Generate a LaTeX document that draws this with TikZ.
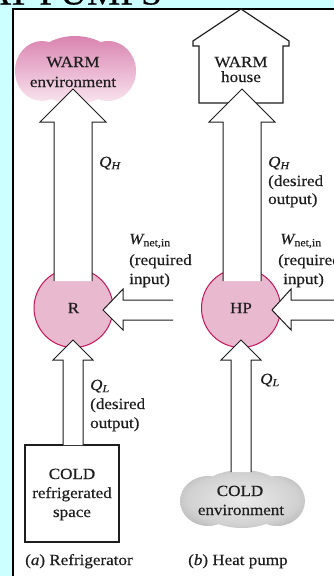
\documentclass[tikz,border=0pt]{standalone}
\usepackage{fontspec}
\setmainfont[FakeStretch=1.1,FakeBold=0.45]{Liberation Serif}
\definecolor{bgcyan}{RGB}{204,255,255}
\definecolor{rpink}{RGB}{233,185,208}
\definecolor{rrim}{RGB}{200,20,90}
\definecolor{ink}{RGB}{30,30,30}
\definecolor{pinktop}{RGB}{218,132,176}
\definecolor{pinkmid}{RGB}{236,186,212}
\definecolor{pinkbot}{RGB}{249,230,240}
\pgfdeclareradialshading{greycloud}{\pgfpoint{0bp}{0bp}}{%
  color(0bp)=(black!8); color(22bp)=(black!18); color(40bp)=(black!40); color(50bp)=(black!55)}
\tikzset{
  lbl/.style={font=\fontsize{15.5}{18}\selectfont, text=ink, inner sep=0pt},
  blk/.style={draw=ink, line width=1pt, fill=white, line join=miter},
  outline/.style={draw=ink, line width=1.2pt},
  machine/.style={circle, minimum size=79pt, inner sep=0pt, fill=rpink, draw=rrim,
    line width=1pt, font=\fontsize{15.5}{18}\selectfont, text=ink},
}
\newcommand{\qsym}[1]{{\itshape Q}\textsubscript{\itshape #1}}
\newcommand{\wnet}{{\itshape W}\textsubscript{net,in}}
\begin{document}
\begin{tikzpicture}[x=1pt,y=-1pt]
\useasboundingbox (0,0) rectangle (334,576);
\fill[bgcyan] (0,0) rectangle (334,576);
% slide heading, mostly above the page edge
\node[anchor=base west, font=\fontsize{34}{34}\selectfont, inner sep=0pt, text=black] (heading) at (-16,4.5) {AT PUMPS};
% white figure panel
\fill[white] (13,9) rectangle (340,580);
\draw[line width=1.3pt, black] (13,580) -- (13,9) -- (340,9);

% ---------------- (a) refrigerator ----------------
\shade[top color=pinktop, middle color=pinkmid, bottom color=pinkbot]
  (75,70) ellipse [x radius=45, y radius=34]
  (42,71) ellipse [x radius=27, y radius=30]
  (108,71) ellipse [x radius=28, y radius=30];
\node[lbl, anchor=base] (warmA1) at (73,67) {WARM};
\node[lbl, anchor=base] (warmA2) at (73,87) {environment};

\node[outline, minimum width=94pt, minimum height=97pt, inner sep=0pt] (coldbox) at (72,493.5) {};
\node[lbl, anchor=base] (coldA1) at (72,479) {COLD};
\node[lbl, anchor=base] (coldA2) at (72,498) {refrigerated};
\node[lbl, anchor=base] (coldA3) at (72,517) {space};

\node[machine] (R) at (73.5,308) {R};

% heat rejected upward
\path[blk] (54,281) -- (54,122) -- (40,122) -- (73,89) -- (106,122) -- (92,122) -- (92,281);
% work input from the right
\path[blk] (173,300) -- (123,300) -- (123,289) -- (103,310) -- (123,330) -- (123,320) -- (173,320);
% heat absorbed from below
\path[blk] (63,445) -- (63,360) -- (53,360) -- (73,340) -- (93,360) -- (83,360) -- (83,445);

\node[lbl, anchor=base west] (qhA) at (99,167) {\qsym{H}};
\node[lbl, anchor=base west] (wA1) at (129,244) {\wnet};
\node[lbl, anchor=base west] (wA2) at (129,265) {(required};
\node[lbl, anchor=base west] (wA3) at (129,284) {input)};
\node[lbl, anchor=base west] (qlA1) at (90,390) {\qsym{L}};
\node[lbl, anchor=base west] (qlA2) at (90,409) {(desired};
\node[lbl, anchor=base west] (qlA3) at (90,428) {output)};
\node[lbl, anchor=base west] (capA) at (25,565) {(\textit{a}) Refrigerator};

% ---------------- (b) heat pump ----------------
\path[outline, fill=white, line join=miter]
  (199,103) -- (199,46) -- (193,46) -- (193,41) -- (241,9) -- (289,41)
  -- (289,46) -- (283,46) -- (283,103) -- cycle;
\node[lbl, anchor=base] (warmB1) at (241,67) {WARM};
\node[lbl, anchor=base] (warmB2) at (241,82) {house};

\shade[shading=greycloud]
  (242,499) ellipse [x radius=47, y radius=29]
  (208,501) ellipse [x radius=28, y radius=25]
  (277,501) ellipse [x radius=28, y radius=25];
\node[lbl, anchor=base] (coldB1) at (240,496) {COLD};
\node[lbl, anchor=base] (coldB2) at (241,515) {environment};

\node[machine] (HP) at (241,308) {HP};

\path[blk] (223,281) -- (223,122) -- (209,122) -- (242,89) -- (275,122) -- (261,122) -- (261,281);
\path[blk] (340,300) -- (291,300) -- (291,289) -- (272,310) -- (291,330) -- (291,320) -- (340,320);
\path[blk] (231,472) -- (231,360) -- (221,360) -- (241,340) -- (261,360) -- (251,360) -- (251,472);

\node[lbl, anchor=base west] (qhB1) at (268,167) {\qsym{H}};
\node[lbl, anchor=base west] (qhB2) at (268,186) {(desired};
\node[lbl, anchor=base west] (qhB3) at (268,204) {output)};
\node[lbl, anchor=base west] (wB1) at (280,244) {\wnet};
\node[lbl, anchor=base west] (wB2) at (278,265) {(required};
\node[lbl, anchor=base west] (wB3) at (283,284) {input)};
\node[lbl, anchor=base west] (qlB) at (260,384) {\qsym{L}};
\node[lbl, anchor=base west] (capB) at (188,565) {(\textit{b}) Heat pump};
\end{tikzpicture}
\end{document}
